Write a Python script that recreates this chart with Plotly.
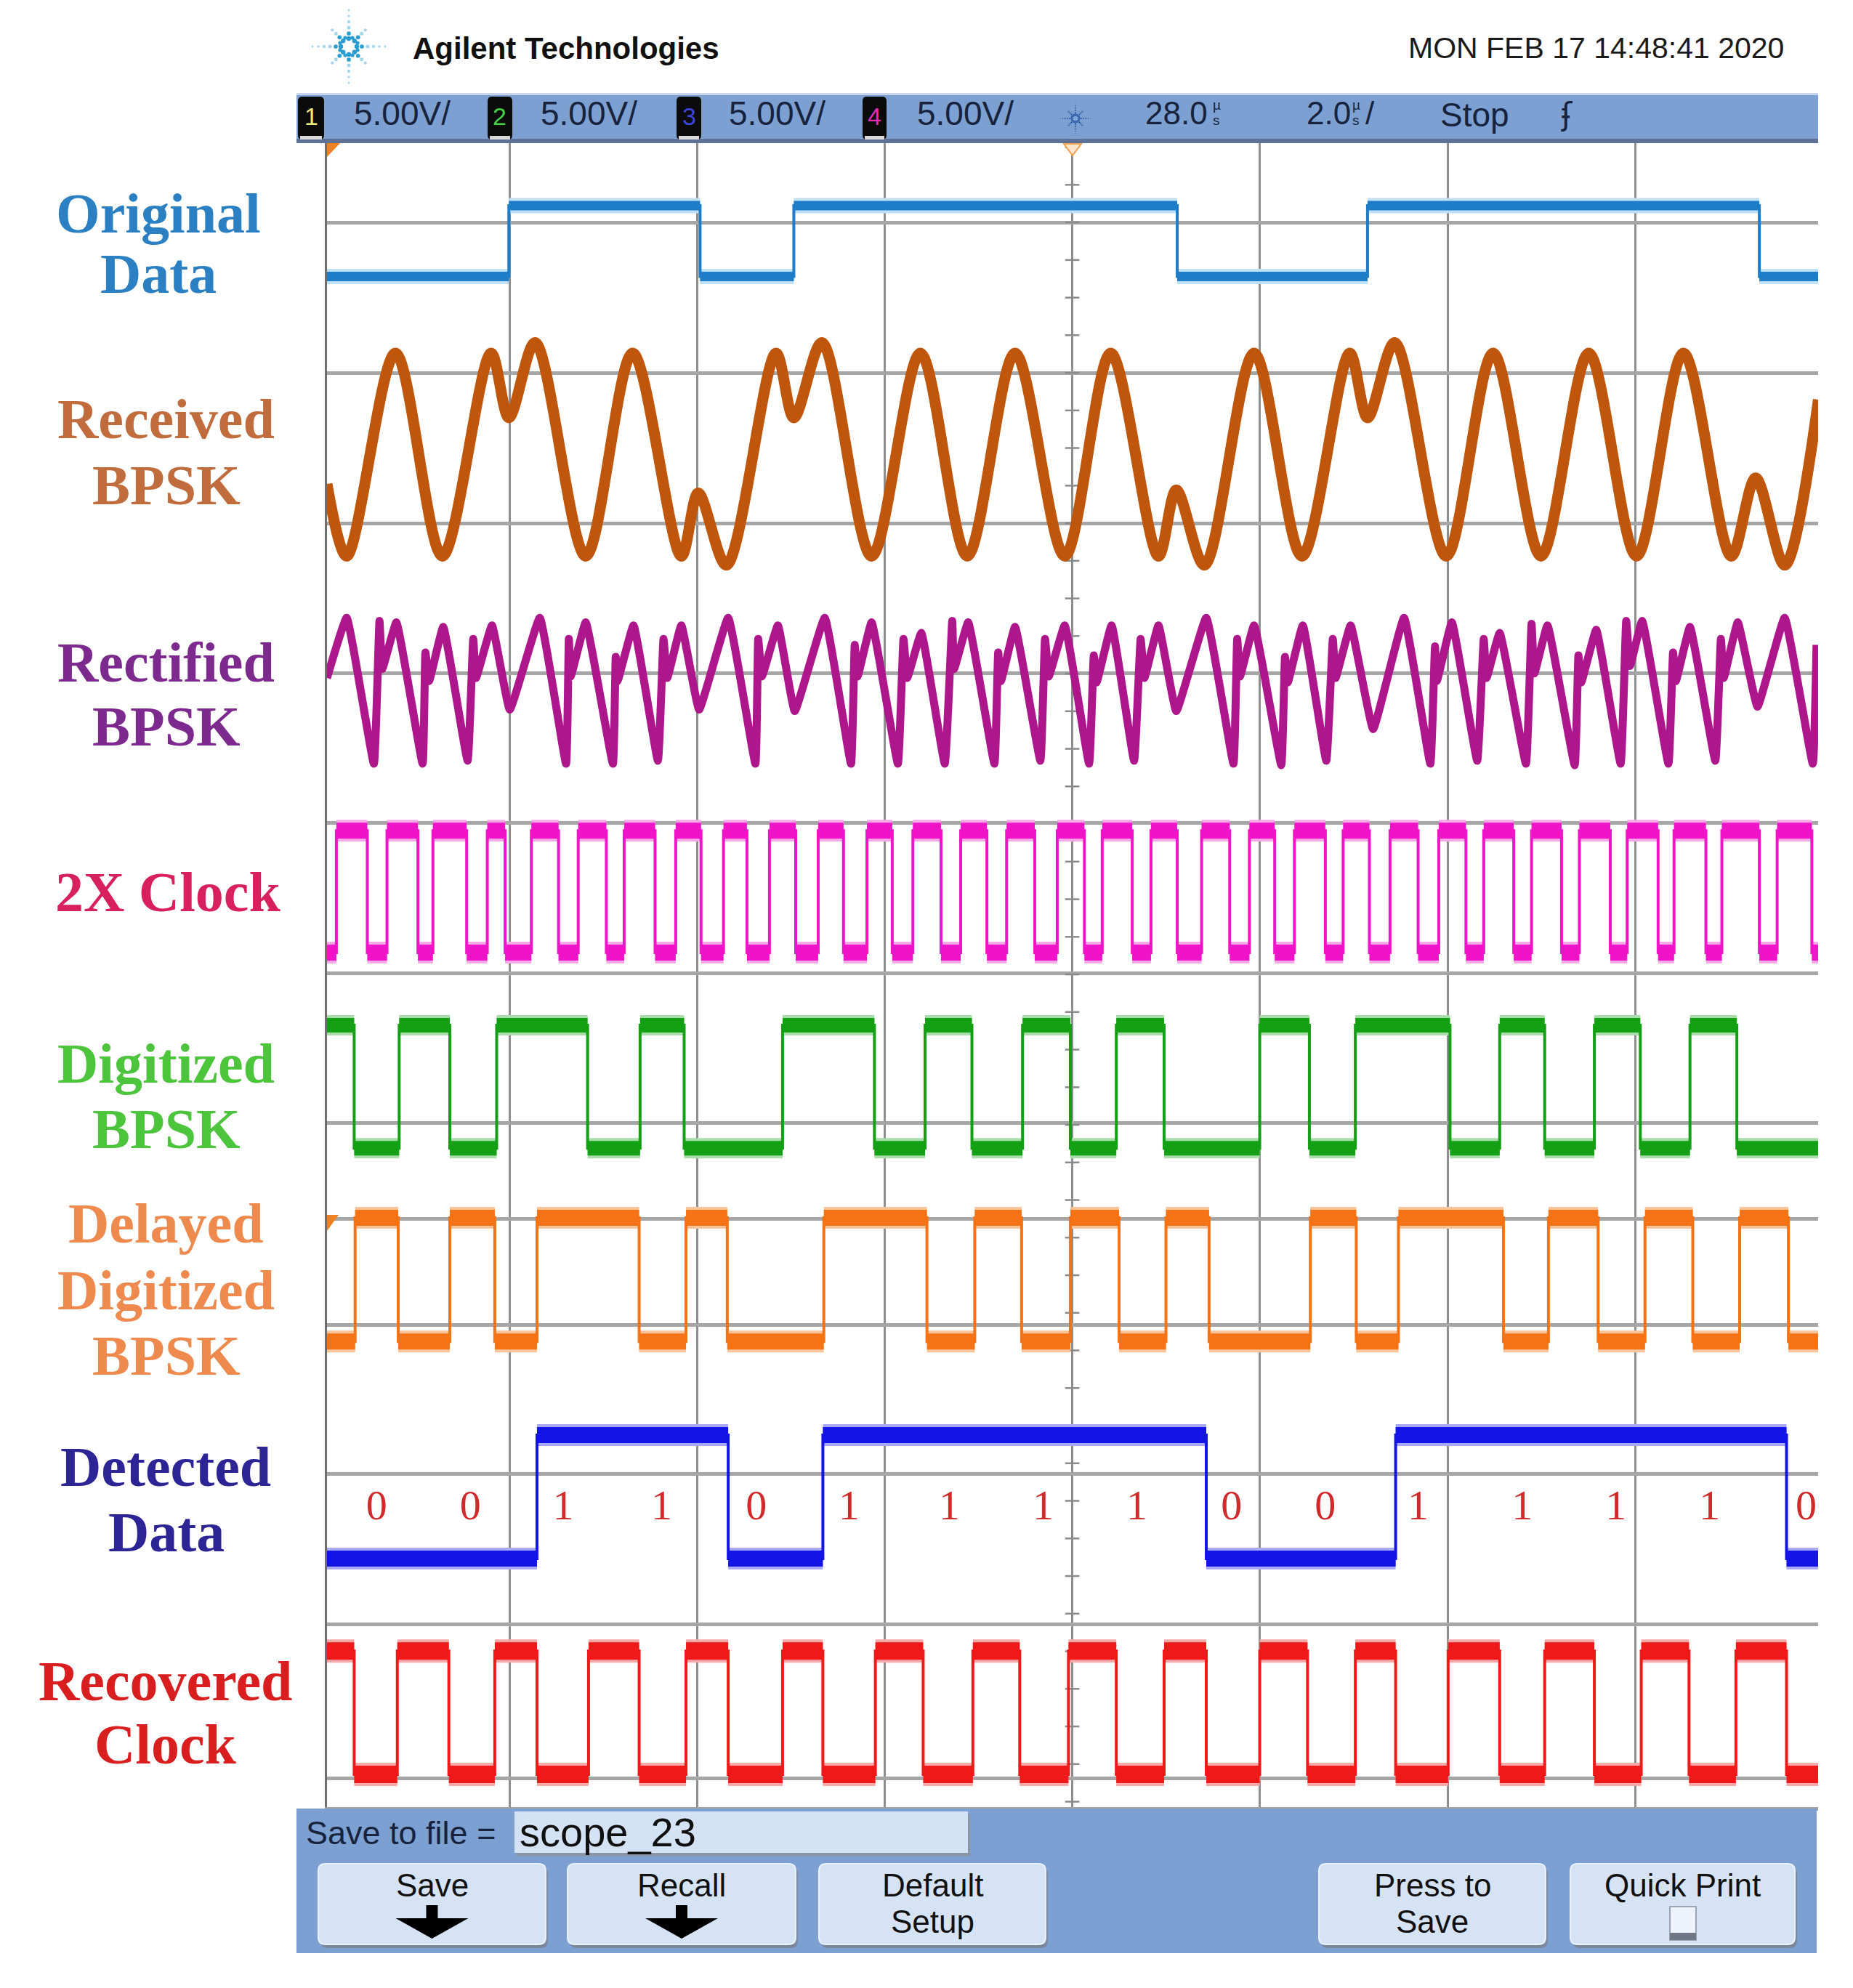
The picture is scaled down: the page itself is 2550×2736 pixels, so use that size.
import plotly.graph_objects as go

W, H = 2550, 2736

# ======================= DATA =======================
# time in microseconds (2.0 us/div, 28.0 us at the centre graticule line)
T_LEFT, T_RIGHT = 20.0, 35.907
# vertical screen position in divisions
V_BOTTOM, V_TOP = -0.077, 10.986

grid_time = [21.95, 23.95, 25.95, 27.95, 29.95, 31.96, 33.96]
grid_level = [10.459, 9.459, 8.459, 7.464, 6.469, 5.469, 4.469, 3.836, 3.130, 2.140, 1.140, 0.116]
centre_time = 27.95

# Original data (square wave)
orig_start = 0
orig_edges = [21.94, 23.98, 24.98, 29.07, 31.10, 35.28]
orig_levels = [10.10, 10.57]

# Received BPSK (peak / trough vertices)
rx_t = [20.00, 20.21, 20.73, 21.23, 21.75, 21.94, 22.22, 22.76, 23.26, 23.78, 23.96, 24.26, 24.79,
        24.98, 25.28, 25.81, 26.33, 26.83, 27.34, 27.87, 28.36, 28.87, 29.06, 29.36, 29.89, 30.40,
        30.91, 31.10, 31.39, 31.94, 32.44, 32.95, 33.46, 33.97, 34.47, 34.98, 35.24, 35.55, 35.91]
rx_v = [8.72, 8.24, 9.59, 8.24, 9.59, 9.16, 9.66, 8.24, 9.59, 8.24, 8.66, 8.18, 9.59,
        9.16, 9.66, 8.24, 9.59, 8.24, 9.59, 8.24, 9.59, 8.24, 8.68, 8.18, 9.59, 8.24,
        9.59, 9.16, 9.66, 8.24, 9.59, 8.24, 9.59, 8.24, 9.59, 8.24, 8.76, 8.18, 9.28]

# Rectified BPSK (vertices)
rect_t = [20.00, 20.21, 20.50, 20.56, 20.59, 20.74, 21.02, 21.05, 21.09, 21.24,
          21.50, 21.56, 21.59, 21.76, 21.95, 22.27, 22.55, 22.58, 22.60, 22.76,
          23.05, 23.08, 23.10, 23.27, 23.53, 23.59, 23.63, 23.78, 23.97, 24.28,
          24.57, 24.60, 24.64, 24.81, 24.99, 25.31, 25.59, 25.63, 25.66, 25.81,
          26.09, 26.15, 26.19, 26.34, 26.59, 26.67, 26.69, 26.84, 27.12, 27.16,
          27.19, 27.34, 27.61, 27.66, 27.70, 27.87, 28.13, 28.18, 28.21, 28.37,
          28.61, 28.68, 28.72, 28.87, 29.06, 29.38, 29.67, 29.71, 29.74, 29.89,
          30.18, 30.22, 30.25, 30.41, 30.66, 30.73, 30.76, 30.92, 31.16, 31.49,
          31.77, 31.82, 31.84, 32.00, 32.27, 32.34, 32.37, 32.51, 32.79, 32.85,
          32.88, 33.02, 33.31, 33.35, 33.38, 33.54, 33.80, 33.86, 33.90, 34.03,
          34.31, 34.36, 34.39, 34.54, 34.81, 34.87, 34.90, 35.05, 35.26, 35.55,
          35.85, 35.89]
rect_v = [7.43, 7.83, 6.86, 7.81, 7.49, 7.80, 6.86, 7.60, 7.41, 7.77,
          6.88, 7.69, 7.43, 7.78, 7.22, 7.83, 6.86, 7.69, 7.44, 7.80,
          6.86, 7.57, 7.41, 7.78, 6.88, 7.69, 7.43, 7.78, 7.22, 7.83,
          6.86, 7.69, 7.44, 7.78, 7.21, 7.83, 6.86, 7.65, 7.44, 7.80,
          6.86, 7.69, 7.43, 7.73, 6.86, 7.81, 7.49, 7.80, 6.86, 7.60,
          7.41, 7.77, 6.88, 7.69, 7.44, 7.78, 6.86, 7.58, 7.40, 7.78,
          6.88, 7.69, 7.43, 7.78, 7.21, 7.83, 6.86, 7.69, 7.44, 7.78,
          6.85, 7.57, 7.40, 7.78, 6.88, 7.69, 7.43, 7.78, 7.09, 7.83,
          6.86, 7.64, 7.41, 7.80, 6.88, 7.69, 7.43, 7.73, 6.86, 7.79,
          7.46, 7.78, 6.85, 7.58, 7.40, 7.75, 6.86, 7.81, 7.51, 7.81,
          6.86, 7.60, 7.41, 7.77, 6.88, 7.69, 7.43, 7.80, 7.24, 7.83,
          6.86, 7.65]

# 2X clock
clk2_start = 0
clk2_edges = [20.10, 20.43, 20.64, 20.97, 21.13, 21.49, 21.71, 21.90, 22.18, 22.47, 22.68, 22.98,
              23.17, 23.50, 23.72, 23.99, 24.23, 24.48, 24.72, 25.00, 25.24, 25.51, 25.76, 26.03,
              26.25, 26.55, 26.76, 27.04, 27.25, 27.55, 27.79, 28.08, 28.27, 28.59, 28.79, 29.07,
              29.33, 29.63, 29.84, 30.11, 30.32, 30.65, 30.84, 31.12, 31.34, 31.64, 31.86, 32.15,
              32.34, 32.66, 32.85, 33.17, 33.36, 33.69, 33.87, 34.20, 34.37, 34.71, 34.88, 35.28,
              35.47, 35.84]
clk2_levels = [5.604, 6.415]

# Digitized BPSK
dig_start = 1
dig_edges = [20.29, 20.77, 21.31, 21.81, 22.78, 23.34, 23.81, 24.86, 25.84, 26.38, 26.88, 27.42,
             27.93, 28.42, 28.93, 29.95, 30.48, 30.97, 31.98, 32.51, 32.99, 33.52, 34.01, 34.54, 35.04]
dig_levels = [4.304, 5.121]

# Delayed digitized BPSK
dly_start = 0
dly_edges = [20.30, 20.76, 21.31, 21.79, 22.24, 23.33, 23.83, 24.27, 25.30, 26.40, 26.91, 27.41,
             27.93, 28.45, 28.95, 29.41, 30.49, 30.98, 31.43, 32.55, 33.03, 33.56, 34.06, 34.57,
             35.07, 35.59]
dly_levels = [3.019, 3.841]

# Detected data
det_start = 0
det_edges = [22.24, 24.28, 25.29, 29.38, 31.40, 35.57]
det_levels = [1.575, 2.396]

bits = ["0", "0", "1", "1", "0", "1", "1", "1", "1", "0", "0", "1", "1", "1", "1", "0"]
bit_t = [20.53, 21.53, 22.52, 23.57, 24.58, 25.57, 26.64, 27.64, 28.64, 29.65, 30.65, 31.64,
         32.75, 33.75, 34.75, 35.78]
bit_level = 1.908

# Recovered clock
rec_start = 1
rec_edges = [20.29, 20.75, 21.30, 21.79, 22.24, 22.79, 23.33, 23.83, 24.28, 24.86, 25.29, 25.85,
             26.36, 26.89, 27.39, 27.91, 28.42, 28.93, 29.38, 29.95, 30.46, 30.97, 31.40, 31.96,
             32.51, 32.99, 33.52, 34.02, 34.53, 35.03, 35.57]
rec_levels = [0.140, 0.961]

# ======================= STYLE =======================
SERIF = "Liberation Serif, Times New Roman, serif"
SANS = "Liberation Sans, Arial, sans-serif"
BAR = "#7da0d2"
INK = "#17233d"

fig = go.Figure()


def square_traces(edges, start, levels, color, core_w, halo=None, edge_w=4):
    xs, ys = [T_LEFT], [levels[start]]
    s = start
    for t in edges:
        xs += [t, t]
        ys += [levels[s], levels[1 - s]]
        s = 1 - s
    xs.append(T_RIGHT)
    ys.append(levels[s])
    bounds = [T_LEFT] + edges + [T_RIGHT]
    px_, py_ = [], []
    s = start
    for a, b in zip(bounds[:-1], bounds[1:]):
        px_ += [a, b, None]
        py_ += [levels[s], levels[s], None]
        s = 1 - s
    out = []
    if halo:
        out.append(go.Scatter(x=px_, y=py_, mode="lines", line=dict(color=halo, width=core_w + 8),
                              hoverinfo="skip"))
    out.append(go.Scatter(x=xs, y=ys, mode="lines", line=dict(color=color, width=edge_w),
                          hoverinfo="skip"))
    out.append(go.Scatter(x=px_, y=py_, mode="lines", line=dict(color=color, width=core_w),
                          hoverinfo="skip"))
    return out


# centre graticule minor ticks
tick_y = []
v = grid_level[0] + 0.5
while v > V_BOTTOM:
    tick_y.append(round(v, 3))
    v -= 0.25
fig.add_trace(go.Scatter(x=[centre_time] * len(tick_y), y=tick_y, mode="markers",
                         marker=dict(symbol="line-ew", size=14, line=dict(width=2.5, color="#8a8a8a")),
                         hoverinfo="skip"))

for tr in square_traces(orig_edges, orig_start, orig_levels, "#1e7dc8", 13, halo="#bfe0f5"):
    fig.add_trace(tr)

fig.add_trace(go.Scatter(x=rx_t, y=rx_v, mode="lines",
                         line=dict(color="#bf560b", width=15, shape="spline", smoothing=0.9),
                         hoverinfo="skip"))
fig.add_trace(go.Scatter(x=rect_t, y=rect_v, mode="lines",
                         line=dict(color="#ae168c", width=11, shape="spline", smoothing=0.3),
                         hoverinfo="skip"))

for tr in square_traces(clk2_edges, clk2_start, clk2_levels, "#f014c8", 22, halo="#f9a8e8"):
    fig.add_trace(tr)
for tr in square_traces(dig_edges, dig_start, dig_levels, "#14a014", 20, halo="#a8dca8"):
    fig.add_trace(tr)
for tr in square_traces(dly_edges, dly_start, dly_levels, "#f57314", 22, halo="#fbc39a"):
    fig.add_trace(tr)
for tr in square_traces(det_edges, det_start, det_levels, "#1414e6", 22, halo="#a8a8f5"):
    fig.add_trace(tr)
for tr in square_traces(rec_edges, rec_start, rec_levels, "#f01919", 24, halo="#f8a8a8"):
    fig.add_trace(tr)

fig.add_trace(go.Scatter(x=bit_t, y=[bit_level] * len(bits), mode="text", text=bits,
                         textposition="middle center", cliponaxis=True,
                         textfont=dict(family=SERIF, size=58, color="#d02a2a"),
                         hoverinfo="skip"))

# ======================= DECORATION =======================
shapes = []
ann = []


def X(px):
    return px / W


def Y(py):
    return 1 - py / H


def rect(x0, y0, x1, y1, fill, line=None, lw=0):
    shapes.append(dict(type="rect", xref="paper", yref="paper", x0=X(x0), x1=X(x1),
                       y0=Y(y1), y1=Y(y0), fillcolor=fill, layer="above",
                       line=dict(color=line or fill, width=lw)))


def pth(points, fill, line=None, lw=0):
    d = "M" + " L".join(f"{X(a):.5f},{Y(b):.5f}" for a, b in points) + " Z"
    shapes.append(dict(type="path", xref="paper", yref="paper", path=d, fillcolor=fill,
                       layer="above", line=dict(color=line or fill, width=lw)))


def rrect(x0, y0, x1, y1, r, fill, line=None, lw=0):
    def p(a, b):
        return f"{X(a):.5f},{Y(b):.5f}"
    d = (f"M{p(x0 + r, y0)} L{p(x1 - r, y0)} Q{p(x1, y0)} {p(x1, y0 + r)} "
         f"L{p(x1, y1 - r)} Q{p(x1, y1)} {p(x1 - r, y1)} L{p(x0 + r, y1)} "
         f"Q{p(x0, y1)} {p(x0, y1 - r)} L{p(x0, y0 + r)} Q{p(x0, y0)} {p(x0 + r, y0)} Z")
    shapes.append(dict(type="path", xref="paper", yref="paper", path=d, fillcolor=fill,
                       layer="above", line=dict(color=line or fill, width=lw)))


def dot(cx, cy, r, color):
    shapes.append(dict(type="circle", xref="paper", yref="paper", x0=X(cx - r), x1=X(cx + r),
                       y0=Y(cy + r), y1=Y(cy - r), fillcolor=color, layer="above",
                       line=dict(width=0)))


def text(s, x, y, size, color=INK, family=SANS, xanchor="center", weight="normal"):
    ann.append(dict(text=s, x=X(x), y=Y(y), xref="paper", yref="paper", xanchor=xanchor,
                    yanchor="middle", showarrow=False,
                    font=dict(family=family, size=size, color=color, weight=weight)))


def spark(cx, cy, sc, inner, outer):
    import math
    for k in range(8):
        ang = math.radians(k * 45)
        radii = [11, 18, 26, 34, 42, 50] if k % 2 == 0 else [11, 18, 25, 32]
        for i, r in enumerate(radii):
            col = inner if i < 2 else outer
            dot(cx + sc * r * math.cos(ang), cy - sc * r * math.sin(ang),
                sc * max(3.2 - 0.35 * i, 1.4), col)
    for k in range(8):
        ang = math.radians(22.5 + k * 45)
        dot(cx + sc * 13 * math.cos(ang), cy - sc * 13 * math.sin(ang), sc * 2.6, inner)


# header
spark(480, 64, 1.0, "#2a9fcf", "#a4d6ec")
text("Agilent Technologies", 566, 66, 42, "#101010", SANS, "left", "bold")
text("MON FEB 17 14:48:41 2020", 1936, 66, 41, "#1a1a1a", SANS, "left")

# status bar
rect(408, 128, 2502, 197, BAR)
rect(408, 191, 2502, 197, "#5d7196")
rect(408, 128, 2502, 131, "#c9d6ea")
for bx0, bx1, lab, col, tx in [(410, 446, "1", "#ecea7a", 553), (671, 705, "2", "#46d046", 810),
                               (931, 965, "3", "#3d44d8", 1069), (1187, 1220, "4", "#e22ab6", 1328)]:
    rrect(bx0, 133, bx1, 192, 6, "#0b0b0b")
    rect(bx0 + 3, 187, bx1 - 3, 192, "#d8d8d8")
    text(lab, (bx0 + bx1) / 2, 160, 34, col, SANS)
    text("5.00V/", tx, 156, 46, INK, SANS)
spark(1480, 163, 0.42, "#2a5aa8", "#2a5aa8")
text("28.0", 1574, 156, 44, INK, SANS, "left")
text("µ", 1674, 145, 19, INK, SANS)
text("s", 1674, 165, 19, INK, SANS)
text("2.0", 1796, 156, 44, INK, SANS, "left")
text("µ", 1866, 145, 19, INK, SANS)
text("s", 1866, 165, 19, INK, SANS)
text("/", 1877, 156, 44, INK, SANS, "left")
text("Stop", 2030, 158, 46, INK, SANS)
text("ʄ", 2156, 158, 42, INK, "DejaVu Sans")

# trigger markers
pth([(450, 197), (468, 197), (450, 216)], "#f08020")
pth([(1464, 198), (1488, 198), (1476, 214)], "#fde6cc", "#f0a050", 2)
pth([(450, 1672), (466, 1672), (450, 1694)], "#f08020")

# bottom panel
rect(408, 2489, 2500, 2688, BAR)
text("Save to file =", 419, 2522, 45, INK, SANS, "left")
rect(711, 2497, 1335, 2555, "#8a95a8")
rect(708, 2493, 1332, 2550, "#d4e2f5")
text("scope_23", 713, 2521, 56, "#101010", SANS, "left")
buttons = [(438, 751, ["Save"], True), (781, 1095, ["Recall"], True),
           (1127, 1439, ["Default", "Setup"], False), (1815, 2127, ["Press to", "Save"], False),
           (2161, 2470, ["Quick Print"], False)]
for bx0, bx1, lines, arrow in buttons:
    rrect(bx0 + 3, 2569, bx1 + 3, 2681, 10, "#7c879a")
    rrect(bx0, 2565, bx1, 2676, 10, "#d6e3f5", "#eaf1fb", 2)
    cx = (bx0 + bx1) / 2
    for i, ln in enumerate(lines):
        text(ln, cx, 2594 + 50 * i, 44, "#111111", SANS)
    if arrow:
        pth([(cx - 8, 2622), (cx + 8, 2622), (cx + 8, 2640), (cx + 50, 2640), (cx, 2668),
             (cx - 50, 2640), (cx - 8, 2640)], "#000000")
rect(2298, 2624, 2334, 2670, "#eef3fb", "#9aa6b8", 2)
rect(2298, 2660, 2334, 2670, "#6f7787")

# channel labels
labels = [("Original", 218, 294, "#2a80c2"), ("Data", 218, 376, "#2a80c2"),
          ("Received", 228, 576, "#c06c3c"), ("BPSK", 229, 667, "#c06c3c"),
          ("Rectified", 228, 911, "#7d2a8e"), ("BPSK", 229, 1000, "#7d2a8e"),
          ("2X Clock", 231, 1227, "#d8205e"),
          ("Digitized", 228, 1463, "#4cc43c"), ("BPSK", 229, 1553, "#4cc43c"),
          ("Delayed", 228, 1684, "#ef8a4f"), ("Digitized", 228, 1775, "#ef8a4f"),
          ("BPSK", 229, 1866, "#ef8a4f"),
          ("Detected", 228, 2018, "#2d2496"), ("Data", 229, 2108, "#2d2496"),
          ("Recovered", 227, 2313, "#d81e1e"), ("Clock", 228, 2400, "#d81e1e")]
for s, x, y, c in labels:
    text(s, x, y, 78, c, SERIF, "center", "bold")

fig.update_layout(
    width=W, height=H, margin=dict(l=0, r=0, t=0, b=0),
    paper_bgcolor="white", plot_bgcolor="white", showlegend=False,
    shapes=shapes, annotations=ann,
    xaxis=dict(domain=[450 / W, 2502 / W], range=[T_LEFT, T_RIGHT], tickvals=grid_time,
               showticklabels=False, ticks="", showgrid=True, gridcolor="#8e8e8e", gridwidth=2.5,
               zeroline=False, showline=True, linecolor="#a3a3a3", linewidth=5, fixedrange=True),
    yaxis=dict(domain=[1 - 2487 / H, 1 - 197 / H], range=[V_BOTTOM, V_TOP], tickvals=grid_level,
               showticklabels=False, ticks="", showgrid=True, gridcolor="#a6a6a6", gridwidth=4.5,
               zeroline=False, showline=True, linecolor="#6e6e6e", linewidth=3, fixedrange=True),
)

fig.write_html("out.html", config={"displayModeBar": False},
               post_script="document.body.style.margin='0';")
